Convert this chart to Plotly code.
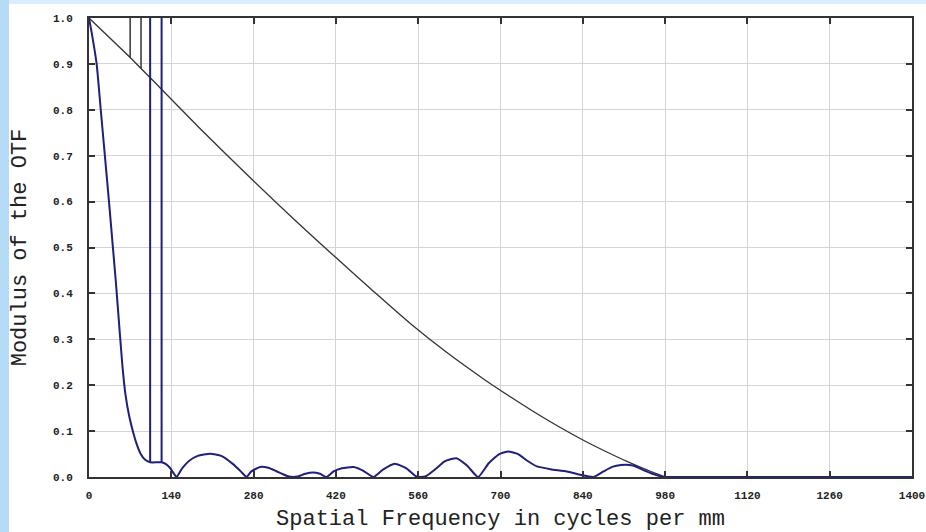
import plotly.graph_objects as go

# ---- data ----
diff_freq = [0, 70, 88.5, 122.5, 200, 280, 350, 420, 480, 546, 610, 673, 720, 767, 841, 880, 915, 950, 980]
diff_mtf = [1.0, 0.914, 0.890, 0.846, 0.745, 0.645, 0.560, 0.478, 0.409, 0.335, 0.270, 0.212, 0.172,
            0.134, 0.080, 0.055, 0.034, 0.015, 0.0]

mtf_freq = [0, 5, 13, 20, 27, 34, 40, 46, 52, 57, 62, 68, 75, 81, 88, 95, 104, 123.5, 131, 138,
            144, 149, 158, 170, 185, 206, 225, 245, 260, 268, 276, 291, 305, 318, 330, 340, 355, 368,
            381, 393, 404, 416, 430, 450, 466, 484, 500, 520, 540, 557, 572, 590, 605, 625, 643, 662,
            680, 698, 713, 730, 745, 762, 785, 813, 835, 858, 875, 890, 905, 925, 945, 965, 980, 1000,
            1400]
mtf_val = [1.0, 0.965, 0.90, 0.80, 0.70, 0.60, 0.51, 0.42, 0.32, 0.24, 0.18, 0.135, 0.098,
           0.072, 0.050, 0.038, 0.032, 0.032, 0.028, 0.0196, 0.008, 0.0, 0.018, 0.035, 0.046, 0.0507,
           0.046, 0.028, 0.010, 0.0, 0.012, 0.0218, 0.020, 0.013, 0.006, 0.001, 0.001, 0.007, 0.010,
           0.007, 0.0, 0.012, 0.019, 0.0218, 0.014, 0.0, 0.016, 0.029, 0.019, 0.001, 0.001, 0.018,
           0.034, 0.041, 0.025, 0.0, 0.030, 0.050, 0.0557, 0.050, 0.036, 0.023, 0.017, 0.012, 0.005,
           0.0, 0.012, 0.022, 0.026, 0.025, 0.014, 0.004, 0.0, 0.0, 0.0]

black_marker_freq = [70, 88.5]
black_marker_low = [0.914, 0.890]
blue_marker_freq = [104, 123.5]
blue_marker_low = [0.032, 0.032]
marker_top = 1.0

x_ticks = [0, 140, 280, 420, 560, 700, 840, 980, 1120, 1260, 1400]
y_ticks = [0.0, 0.1, 0.2, 0.3, 0.4, 0.5, 0.6, 0.7, 0.8, 0.9, 1.0]

BLACK = "#333333"
BLUE = "#1f1f7c"

fig = go.Figure()

fig.add_trace(go.Scatter(x=diff_freq, y=diff_mtf, mode="lines", line_shape="spline",
                         line=dict(color=BLACK, width=1.3, smoothing=0.8), showlegend=False))
for f, lo in zip(black_marker_freq, black_marker_low):
    fig.add_trace(go.Scatter(x=[f, f], y=[lo, marker_top], mode="lines",
                             line=dict(color=BLACK, width=1.5), showlegend=False))
for f, lo in zip(blue_marker_freq, blue_marker_low):
    fig.add_trace(go.Scatter(x=[f, f], y=[lo, marker_top], mode="lines",
                             line=dict(color=BLUE, width=2), showlegend=False))
fig.add_trace(go.Scatter(x=mtf_freq, y=mtf_val, mode="lines", line_shape="spline",
                         line=dict(color=BLUE, width=2, smoothing=0.5), showlegend=False))

W, H = 926, 532
ml, mr, mt, mb = 89, 14, 18, 55
pw, ph = W - ml - mr, H - mt - mb

def px2x(p):
    return (p - ml) / pw

def py2y(p):
    return 1 - (p - mt) / ph

shapes = [
    # light blue border strips of the page
    dict(type="rect", xref="paper", yref="paper", x0=px2x(0), x1=px2x(W), y0=py2y(0), y1=py2y(4),
         fillcolor="#d9edfb", line_width=0, layer="below"),
    dict(type="rect", xref="paper", yref="paper", x0=px2x(0), x1=px2x(9), y0=py2y(0), y1=py2y(H),
         fillcolor="#b5dbf7", line_width=0, layer="below"),
]

tickfont = dict(family="Liberation Mono, Courier New, monospace", size=11, color="#222222", weight="bold")
titlefont = dict(family="Liberation Mono, Courier New, monospace", size=22, color="#222222")

fig.update_layout(
    width=W, height=H,
    margin=dict(l=ml, r=mr, t=mt, b=mb, autoexpand=False),
    paper_bgcolor="white", plot_bgcolor="white",
    shapes=shapes,
    xaxis=dict(range=[0, 1400], tickvals=x_ticks, ticktext=[str(v) for v in x_ticks],
               showgrid=True, gridcolor="#d4d4d4", gridwidth=1.2, zeroline=False,
               showline=True, linecolor=BLACK, linewidth=2, mirror="ticks",
               ticks="inside", ticklen=6, tickwidth=2, tickcolor=BLACK,
               tickfont=tickfont, ticklabelstandoff=7, automargin=False,
               title=dict(text="Spatial Frequency in cycles per mm", font=titlefont, standoff=8)),
    yaxis=dict(range=[0, 1], tickvals=y_ticks, ticktext=[f"{v:.1f}" for v in y_ticks],
               showgrid=True, gridcolor="#d4d4d4", gridwidth=1.2, zeroline=False,
               showline=True, linecolor=BLACK, linewidth=2, mirror="ticks",
               ticks="inside", ticklen=6, tickwidth=2, tickcolor=BLACK,
               tickfont=tickfont, ticklabelstandoff=12, automargin=False,
               title=dict(text="Modulus of the OTF", font=titlefont, standoff=20)),
)

fig.write_html("out.html", config={"displayModeBar": False},
               post_script="document.body.style.margin='0';")
